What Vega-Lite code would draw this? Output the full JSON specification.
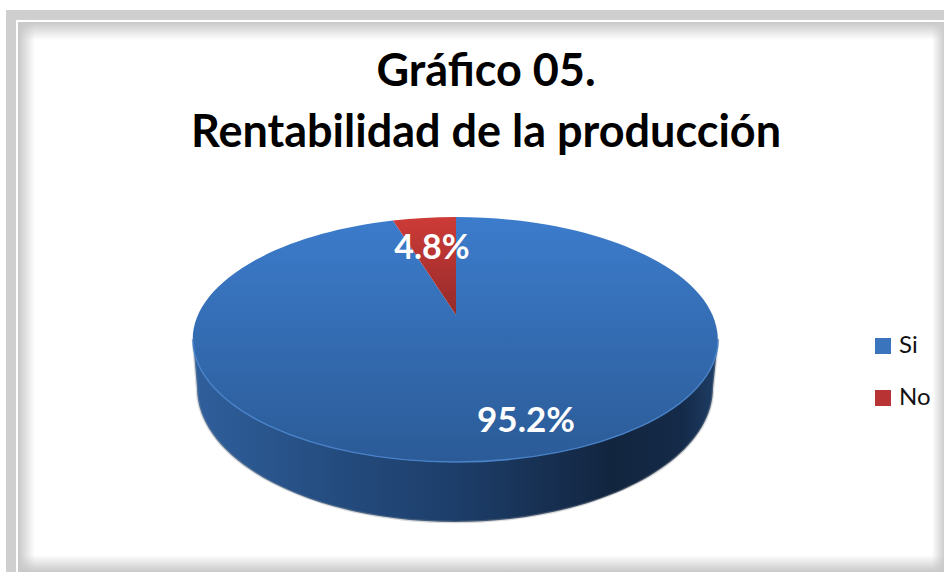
{"$schema":"https://vega.github.io/schema/vega-lite/v6.json","width":944,"height":572,"padding":0,"autosize":"none","background":"white","config":{"view":{"stroke":null}},
"title":{"text":["Gráfico 05.","Rentabilidad de la producción"],"font":"Lato","fontWeight":"bold","fontSize":45,"lineHeight":61,"color":"black","anchor":"middle","offset":-156,"dx":14,"baseline":"top"},
"data":{"values":[{"respuesta":"Si","porcentaje":0.952},{"respuesta":"No","porcentaje":0.048}]},
"layer":[
{"data":{"values":[{"parte":"borde"}]},"mark":{"type":"point","shape":"M-466 -276H472V286H-466Z","size":4,"filled":true,"fill":"#cfcfcf","opacity":1,"strokeWidth":0},"encoding":{}},
{"data":{"values":[{"parte":"linea"}]},"mark":{"type":"point","shape":"M-456 -266H472V286H-456Z","size":4,"filled":true,"fill":"#ffffff","opacity":1,"strokeWidth":0},"encoding":{}},
{"data":{"values":[{"parte":"sup"}]},"mark":{"type":"point","shape":"M-454 -264H472V-246H-454Z","size":4,"filled":true,"opacity":1,"strokeWidth":0,"fill":{"gradient":"linear","x1":0,"y1":0,"x2":0,"y2":1,"stops":[{"offset":0,"color":"rgba(200,200,200,1)"},{"offset":1,"color":"rgba(200,200,200,0)"}]}},"encoding":{}},
{"data":{"values":[{"parte":"izq"}]},"mark":{"type":"point","shape":"M-454 -264H-437V286H-454Z","size":4,"filled":true,"opacity":1,"strokeWidth":0,"fill":{"gradient":"linear","x1":0,"y1":0,"x2":1,"y2":0,"stops":[{"offset":0,"color":"rgba(200,200,200,1)"},{"offset":1,"color":"rgba(200,200,200,0)"}]}},"encoding":{}},
{"data":{"values":[{"parte":"der"}]},"mark":{"type":"point","shape":"M460 -264H472V286H460Z","size":4,"filled":true,"opacity":1,"strokeWidth":0,"fill":{"gradient":"linear","x1":1,"y1":0,"x2":0,"y2":0,"stops":[{"offset":0,"color":"rgba(205,205,205,1)"},{"offset":1,"color":"rgba(205,205,205,0)"}]}},"encoding":{}},
{"data":{"values":[{"parte":"inf"}]},"mark":{"type":"point","shape":"M-454 269H472V286H-454Z","size":4,"filled":true,"opacity":1,"strokeWidth":0,"fill":{"gradient":"linear","x1":0,"y1":1,"x2":0,"y2":0,"stops":[{"offset":0,"color":"rgba(200,200,200,1)"},{"offset":1,"color":"rgba(200,200,200,0)"}]}},"encoding":{}},
{"data":{"values":[{"parte":"lateral"}]},"mark":{"type":"point","shape":"M-279 54L-275 102A258 134 0 0 0 241 102L246 54Z","size":4,"filled":true,"opacity":1,"stroke":"#8a8f96","strokeOpacity":0.35,"strokeWidth":2.5,"fill":{"gradient":"linear","x1":0,"y1":0,"x2":1,"y2":0,"stops":[{"offset":0,"color":"#2f5f9c"},{"offset":0.3,"color":"#234a7c"},{"offset":0.5,"color":"#1d3e6a"},{"offset":0.8,"color":"#12253f"},{"offset":0.93,"color":"#142a48"},{"offset":1,"color":"#1e3e66"}]}},"encoding":{}},
{"mark":{"type":"point","shape":"square","size":0,"filled":true,"opacity":1,"strokeWidth":0},
"encoding":{"color":{"field":"respuesta","type":"nominal","title":null,"scale":{"domain":["Si","No"],"range":["#3a74bd","#b83333"]},
"legend":{"orient":"none","legendX":871,"legendY":334,"symbolType":"square","symbolSize":256,"symbolStrokeWidth":0,"labelFont":"Lato","labelFontSize":24,"labelColor":"#111111","rowPadding":28,"labelOffset":4}}}},
{"transform":[{"filter":"datum.respuesta==='Si'"}],"mark":{"type":"point","shape":"M-16 29L-16 -69A262.5 122.5 0 1 1 -79 -65.5Z","size":4,"filled":true,"opacity":1,"strokeWidth":0,"fill":{"gradient":"linear","x1":0,"y1":0,"x2":0,"y2":1,"stops":[{"offset":0,"color":"#3c7ccc"},{"offset":1,"color":"#2b5b97"}]}},"encoding":{}},
{"transform":[{"filter":"datum.respuesta==='No'"}],"mark":{"type":"point","shape":"M-16 29L-79 -65.5A262.5 122.5 0 0 1 -16 -69Z","size":4,"filled":true,"opacity":1,"strokeWidth":0,"fill":{"gradient":"linear","x1":0,"y1":0,"x2":0,"y2":1,"stops":[{"offset":0,"color":"#cd3b37"},{"offset":1,"color":"#942a2a"}]}},"encoding":{}},
{"data":{"values":[{"parte":"canto"}]},"mark":{"type":"point","shape":"M-279 53.5A262.5 122.5 0 0 0 246 53.5","size":4,"filled":false,"opacity":1,"stroke":"#4a82c8","strokeWidth":1.5},"encoding":{}},
{"transform":[{"filter":"datum.respuesta==='No'"}],"mark":{"type":"text","font":"Lato","fontWeight":"bold","fontSize":34,"color":"white","dx":-40,"dy":-37,"baseline":"middle","align":"center"},"encoding":{"text":{"field":"porcentaje","type":"quantitative","format":".1%"}}},
{"transform":[{"filter":"datum.respuesta==='Si'"}],"mark":{"type":"text","font":"Lato","fontWeight":"bold","fontSize":35,"color":"white","dx":54,"dy":135,"baseline":"middle","align":"center"},"encoding":{"text":{"field":"porcentaje","type":"quantitative","format":".1%"}}}
]}
